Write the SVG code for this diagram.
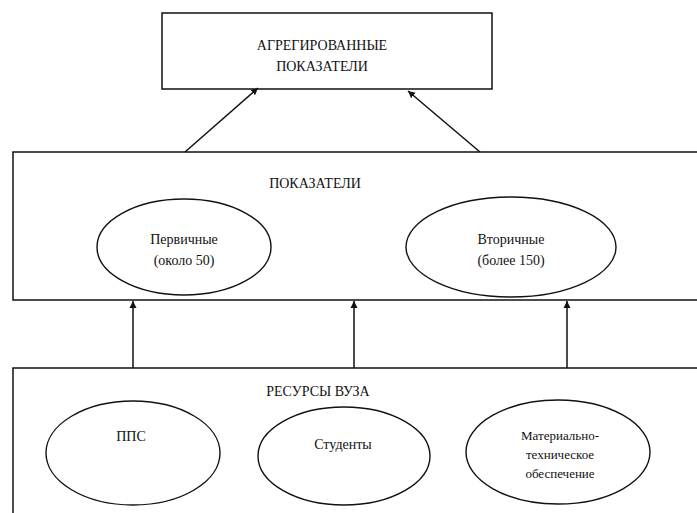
<svg xmlns="http://www.w3.org/2000/svg" width="697" height="513" viewBox="0 0 697 513">
  <style>
    .box { fill: #fff; stroke: #111; stroke-width: 1.5; }
    .ell { fill: none; stroke: #111; stroke-width: 1.4; }
    .lbl { font-family: "Liberation Serif", "DejaVu Serif", serif; font-size: 14px; fill: #111; text-anchor: middle; }
    .sm { font-size: 13px; }
    .conn { stroke: #111; stroke-width: 1.5; fill: none; marker-end: url(#arr); }
  </style>
  <defs>
    <marker id="arr" viewBox="0 0 10 10" refX="10" refY="5" markerWidth="7" markerHeight="8" markerUnits="userSpaceOnUse" orient="auto">
      <path d="M0,0 L10,5 L0,10 z" fill="#111"/>
    </marker>
  </defs>
  <rect width="697" height="513" fill="#fff"/>

  <!-- top level box -->
  <g id="aggregated">
    <rect class="box" x="162" y="13" width="330" height="76"/>
    <text class="lbl" x="322" y="50">АГРЕГИРОВАННЫЕ</text>
    <text class="lbl" x="322" y="71">ПОКАЗАТЕЛИ</text>
  </g>

  <!-- middle band, open to the right -->
  <g id="indicators">
    <path class="box" d="M700,152 L13,152 L13,300 L700,300"/>
    <text class="lbl" x="315" y="188">ПОКАЗАТЕЛИ</text>
  </g>

  <g id="primary">
    <ellipse class="ell" cx="184" cy="247" rx="87" ry="48"/>
    <text class="lbl" x="184" y="244">Первичные</text>
    <text class="lbl" x="184" y="265">(около 50)</text>
  </g>

  <g id="secondary">
    <ellipse class="ell" cx="511" cy="247" rx="105" ry="50"/>
    <text class="lbl" x="511" y="244">Вторичные</text>
    <text class="lbl" x="511" y="265">(более 150)</text>
  </g>

  <!-- bottom band, open to the right and below -->
  <g id="resources">
    <path class="box" d="M700,368 L13,368 L13,520"/>
    <text class="lbl" x="318" y="396">РЕСУРСЫ ВУЗА</text>
  </g>

  <g id="pps">
    <ellipse class="ell" cx="133" cy="453" rx="87" ry="52"/>
    <text class="lbl" x="131" y="441">ППС</text>
  </g>

  <g id="students">
    <ellipse class="ell" cx="344" cy="456" rx="86" ry="49"/>
    <text class="lbl" x="343" y="449">Студенты</text>
  </g>

  <g id="material">
    <ellipse class="ell" cx="558" cy="452" rx="92" ry="52"/>
    <text class="lbl sm" x="560" y="440">Материально-</text>
    <text class="lbl sm" x="560" y="459">техническое</text>
    <text class="lbl sm" x="560" y="478">обеспечение</text>
  </g>

  <g id="connectors">
    <line class="conn" x1="185" y1="152" x2="258" y2="88"/>
    <line class="conn" x1="480" y1="152" x2="408" y2="91"/>
    <line class="conn" x1="133" y1="368" x2="133" y2="301"/>
    <line class="conn" x1="354" y1="368" x2="354" y2="301"/>
    <line class="conn" x1="567" y1="368" x2="567" y2="301"/>
  </g>
</svg>
